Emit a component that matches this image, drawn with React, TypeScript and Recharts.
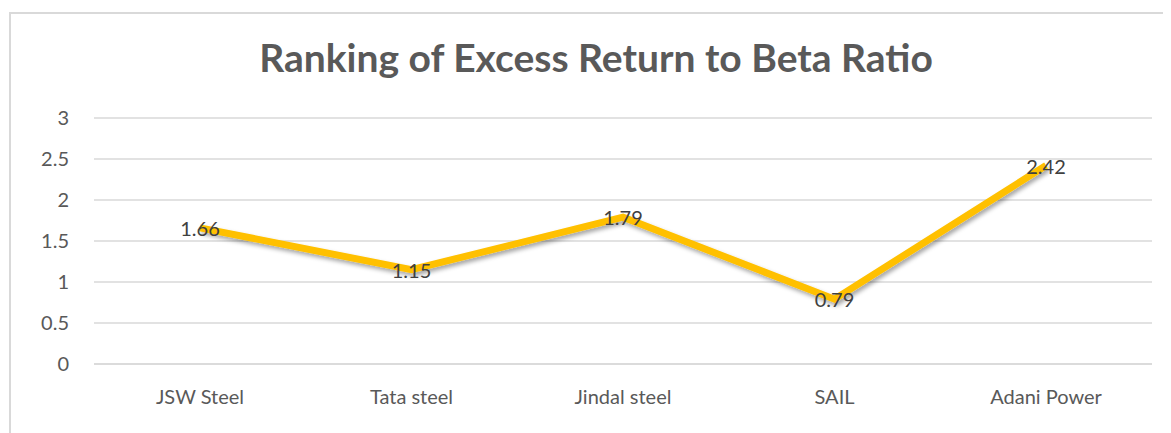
import { LineChart, Line, XAxis, YAxis, CartesianGrid } from 'recharts';

const companies = ['JSW Steel', 'Tata steel', 'Jindal steel', 'SAIL', 'Adani Power'];
const ratios = [1.66, 1.15, 1.79, 0.79, 2.42];
const yTicks = [0, 0.5, 1, 1.5, 2, 2.5, 3];

const chartData = companies.map((name, i) => ({ name, ratio: ratios[i] }));

const FONT = 'Lato, "Open Sans", sans-serif';

const renderLabel = (props: any) => {
  const { x, y, value } = props;
  return (
    <text x={x} y={y} textAnchor="middle" dominantBaseline="central" fill="#404040" fontSize={20} fontFamily={FONT}>
      {value}
    </text>
  );
};

export default function App() {
  return (
    <div
      style={{
        position: 'relative',
        marginTop: 4,
        marginLeft: 1,
        width: 1170,
        height: 430,
        borderTop: '2px solid #d9d9d9',
        borderLeft: '2px solid #d9d9d9',
        boxSizing: 'border-box',
        background: '#fff',
      }}
    >
      <div
        style={{
          position: 'absolute',
          left: 0,
          width: 1170,
          top: 20,
          textAlign: 'center',
          fontFamily: FONT,
          fontWeight: 700,
          fontSize: 39,
          color: '#595959',
        }}
      >
        Ranking of Excess Return to Beta Ratio
      </div>
      <LineChart
        width={1160}
        height={420}
        data={chartData}
        margin={{ top: 104, right: 19, bottom: 0, left: 0 }}
      >
        <defs>
          <filter id="lineShadow" x="-10%" y="-10%" width="120%" height="140%">
            <feDropShadow dx="2" dy="3" stdDeviation="2" floodColor="#000" floodOpacity="0.35" />
          </filter>
        </defs>
        <CartesianGrid vertical={false} stroke="#d9d9d9" strokeWidth={1.5} />
        <XAxis
          dataKey="name"
          height={70}
          padding={{ left: 106, right: 106 }}
          axisLine={{ stroke: '#d9d9d9', strokeWidth: 1.5 }}
          tickLine={false}
          tickSize={0}
          tickMargin={26}
          tick={{ fill: '#595959', fontSize: 20, fontFamily: FONT }}
        />
        <YAxis
          width={83}
          domain={[0, 3]}
          ticks={yTicks}
          axisLine={false}
          tickLine={false}
          tickSize={0}
          tickMargin={25}
          tick={{ fill: '#595959', fontSize: 20, fontFamily: FONT }}
        />
        <Line
          type="linear"
          dataKey="ratio"
          stroke="#FFC000"
          strokeWidth={7}
          dot={false}
          activeDot={false}
          isAnimationActive={false}
          filter="url(#lineShadow)"
          label={renderLabel}
        />
      </LineChart>
    </div>
  );
}
